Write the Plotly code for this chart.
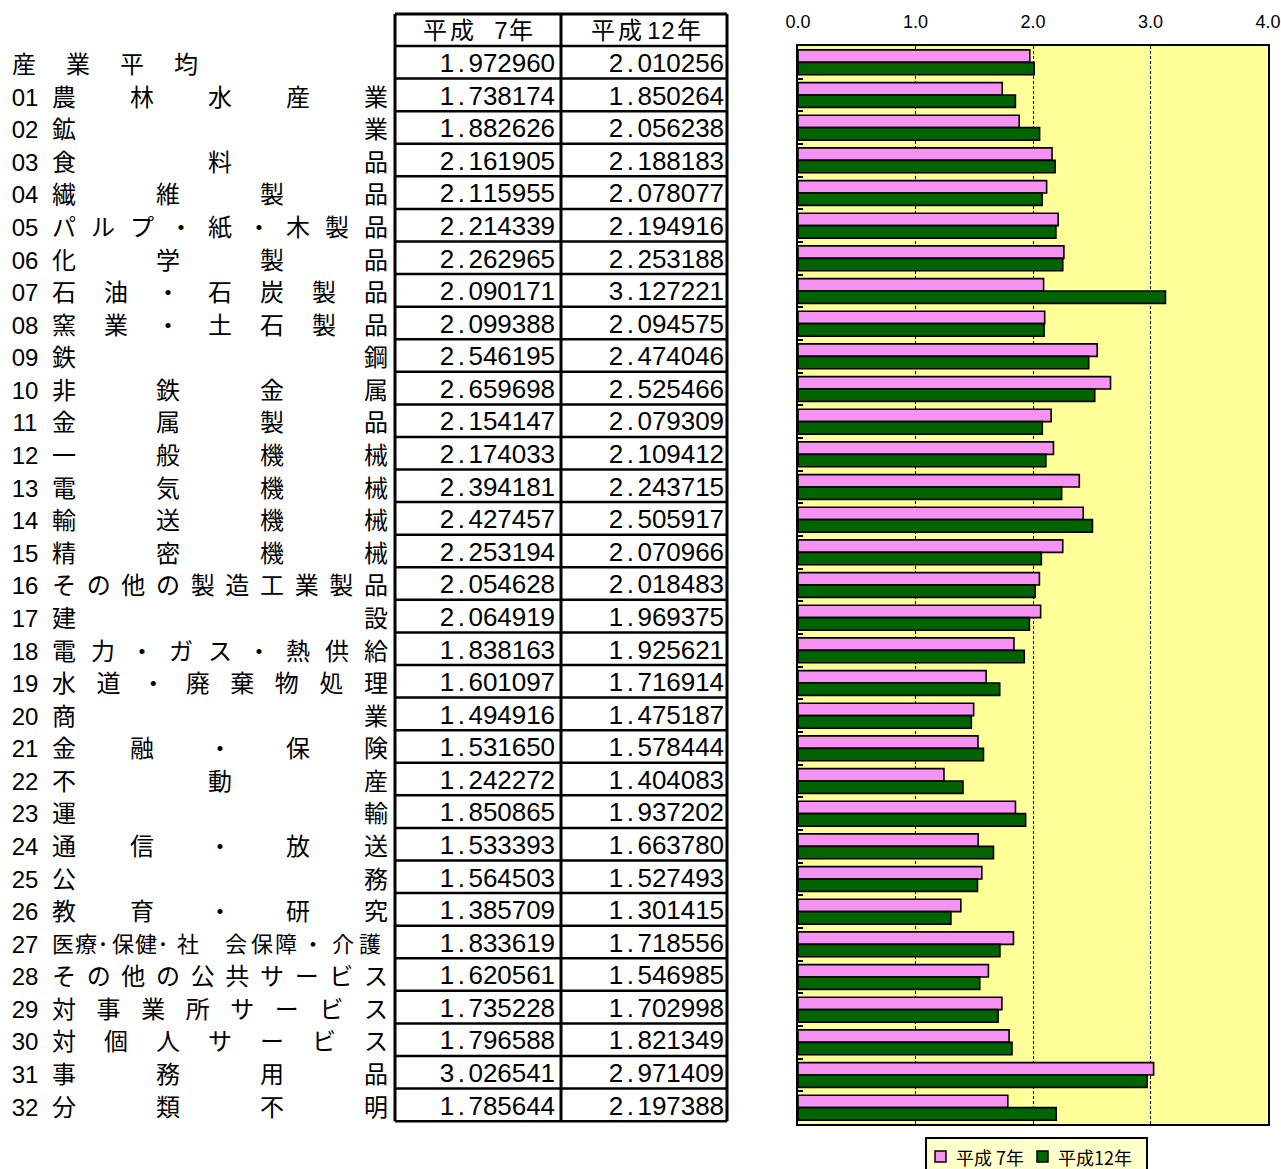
import plotly.graph_objects as go

W, H = 1281, 1169

# ---- data -------------------------------------------------------------
codes = ["", "01", "02", "03", "04", "05", "06", "07", "08", "09", "10",
         "11", "12", "13", "14", "15", "16", "17", "18", "19", "20",
         "21", "22", "23", "24", "25", "26", "27", "28", "29", "30",
         "31", "32"]
names = ["産業平均", "農林水産業", "鉱業", "食料品", "繊維製品",
         "パルプ・紙・木製品", "化学製品", "石油・石炭製品", "窯業・土石製品",
         "鉄鋼", "非鉄金属", "金属製品", "一般機械", "電気機械", "輸送機械",
         "精密機械", "その他の製造工業製品", "建設", "電力・ガス・熱供給",
         "水道・廃棄物処理", "商業", "金融・保険", "不動産", "運輸",
         "通信・放送", "公務", "教育・研究", "医療･保健･社会保障・介護",
         "その他の公共サービス", "対事業所サービス", "対個人サービス",
         "事務用品", "分類不明"]
h07 = [1.972960, 1.738174, 1.882626, 2.161905, 2.115955, 2.214339,
       2.262965, 2.090171, 2.099388, 2.546195, 2.659698, 2.154147,
       2.174033, 2.394181, 2.427457, 2.253194, 2.054628, 2.064919,
       1.838163, 1.601097, 1.494916, 1.531650, 1.242272, 1.850865,
       1.533393, 1.564503, 1.385709, 1.833619, 1.620561, 1.735228,
       1.796588, 3.026541, 1.785644]
h12 = [2.010256, 1.850264, 2.056238, 2.188183, 2.078077, 2.194916,
       2.253188, 3.127221, 2.094575, 2.474046, 2.525466, 2.079309,
       2.109412, 2.243715, 2.505917, 2.070966, 2.018483, 1.969375,
       1.925621, 1.716914, 1.475187, 1.578444, 1.404083, 1.937202,
       1.663780, 1.527493, 1.301415, 1.718556, 1.546985, 1.702998,
       1.821349, 2.971409, 2.197388]
series_names = ["平成 7年", "平成12年"]
x_ticks = [0, 1, 2, 3, 4]

categories = [(c + " " + n).strip() for c, n in zip(codes, names)]

# ---- layout constants (pixels) ---------------------------------------
PLOT_L, PLOT_R, PLOT_T, PLOT_B = 798, 1268, 46, 1124
TBL_L, TBL_M, TBL_R = 395, 561, 727
TBL_T, HDR_B, ROW_H = 14, 46, 32.58
PINK, GREEN, YELLOW = "#F592F2", "#006400", "#FFFF99"

CJK = "Noto Sans CJK JP"
LAT = "Liberation Sans, Arial, sans-serif"

# glyph centres for the one label that is set tighter than the rest
LONG_LABEL_X = [63, 86, 103, 123, 146, 163, 188, 236, 262, 286, 313, 343, 370]


def row_text_y(i, lift):
    """Text sits just above the rule closing row i."""
    return HDR_B + ROW_H * (i + 1) - lift


fig = go.Figure()

# ---- bar chart -------------------------------------------------------
for name, vals, col in [(series_names[0], h07, PINK), (series_names[1], h12, GREEN)]:
    fig.add_trace(go.Bar(
        y=categories, x=vals, name=name, orientation="h",
        marker=dict(color=col, line=dict(color="black", width=1.6)),
        xaxis="x", yaxis="y", hoverinfo="skip", showlegend=False))

# ---- row labels: characters spread across the label column -----------
annotations = []
lab_x, lab_y, lab_t = [], [], []
long_x, long_y, long_t = [], [], []
code_x, code_y, code_t = [], [], []
for i, (c, n) in enumerate(zip(codes, names)):
    y = row_text_y(i, 11.5)
    if c:
        code_x.append(25); code_y.append(y); code_t.append(c)
    if len(n) == len(LONG_LABEL_X):
        for ch, x in zip(n, LONG_LABEL_X):
            long_x.append(x); long_y.append(y); long_t.append(ch)
        continue
    if i == 0:
        xs = [24 + 54 * k for k in range(len(n))]
    elif len(n) == 1:
        xs = [64]
    else:
        xs = [64 + k * 312 / (len(n) - 1) for k in range(len(n))]
    for ch, x in zip(n, xs):
        lab_x.append(x); lab_y.append(y); lab_t.append(ch)

def text_trace(xs, ys, ts, family, size):
    return go.Scatter(x=xs, y=ys, text=ts, mode="text", textposition="middle center",
                      textfont=dict(family=family, size=size, color="black"),
                      xaxis="x2", yaxis="y2", showlegend=False, hoverinfo="skip")

fig.add_trace(text_trace(lab_x, lab_y, lab_t, CJK, 24))
fig.add_trace(text_trace(long_x, long_y, long_t, CJK, 22))
fig.add_trace(text_trace(code_x, code_y, code_t, LAT, 24))

# ---- table values, one glyph per fixed-width cell --------------------
num_x, num_y, num_t = [], [], []
for i in range(len(categories)):
    y = row_text_y(i, 13)
    for vals, right in [(h07, 555), (h12, 724)]:
        s = f"{vals[i]:.6f}"
        for k, ch in enumerate(s):
            num_x.append(right - 7.2 - (len(s) - 1 - k) * 14.4)
            num_y.append(y)
            num_t.append(ch)
fig.add_trace(text_trace(num_x, num_y, num_t, LAT, 26))

# table header, glyph by glyph
HDR_Y = 33
hdr_pos = [[435, 462, None, 501, 521], [603, 630, 654, 668, 689]]
hx, hy, ht = [], [], []
dx, dy, dt = [], [], []
for label, xs in zip(series_names, hdr_pos):
    for ch, x in zip(label, xs):
        if x is None or ch == " ":
            continue
        if ch.isdigit():
            dx.append(x); dy.append(HDR_Y); dt.append(ch)
        else:
            hx.append(x); hy.append(HDR_Y); ht.append(ch)
fig.add_trace(text_trace(hx, hy, ht, CJK, 24))
fig.add_trace(text_trace(dx, dy, dt, LAT, 24))

# ---- table grid ------------------------------------------------------
shapes = []
n_rows = len(categories)
tbl_b = HDR_B + ROW_H * n_rows
for k in range(n_rows + 1):
    yk = HDR_B + ROW_H * k
    shapes.append(dict(type="line", xref="x2", yref="y2", x0=TBL_L, x1=TBL_R,
                       y0=yk, y1=yk, line=dict(color="black", width=2.5)))
shapes.append(dict(type="line", xref="x2", yref="y2", x0=TBL_L, x1=TBL_R,
                   y0=TBL_T, y1=TBL_T, line=dict(color="black", width=3)))
for xk in (TBL_L, TBL_M, TBL_R):
    shapes.append(dict(type="line", xref="x2", yref="y2", x0=xk, x1=xk,
                       y0=TBL_T, y1=tbl_b, line=dict(color="black", width=3)))

# yellow plotting area
shapes.append(dict(type="rect", xref="x domain", yref="y domain", x0=0, x1=1, y0=0, y1=1,
                   fillcolor=YELLOW, line=dict(width=0), layer="below"))

# ---- legend box ------------------------------------------------------
LG_L, LG_T, LG_R, LG_B = 926, 1138, 1147, 1180
shapes.append(dict(type="rect", xref="x2", yref="y2", x0=LG_L, x1=LG_R, y0=LG_T, y1=LG_B,
                   fillcolor="#FFFFCC", line=dict(color="black", width=2)))
for (sx, tx), label, col in zip([(935, 954), (1037, 1056)], series_names, [PINK, GREEN]):
    shapes.append(dict(type="rect", xref="x2", yref="y2", x0=sx, x1=sx + 11,
                       y0=1151, y1=1162, fillcolor=col,
                       line=dict(color="black", width=1.5)))
    annotations.append(dict(xref="x2", yref="y2", x=tx, y=1157, text=label,
                            xanchor="left", yanchor="middle", showarrow=False,
                            font=dict(family=CJK, size=18, color="black")))

fig.update_layout(
    width=W, height=H, margin=dict(l=0, r=0, t=0, b=0, autoexpand=False),
    paper_bgcolor="white", plot_bgcolor="rgba(0,0,0,0)",
    barmode="group", bargap=0.24, bargroupgap=0.0,
    shapes=shapes, annotations=annotations, showlegend=False,
    xaxis=dict(domain=[PLOT_L / W, PLOT_R / W], range=[0, 4], side="top",
               tickvals=x_ticks, ticktext=[f"{v:.1f}" for v in x_ticks],
               tickfont=dict(family=LAT, size=18, color="black"),
               ticks="", ticklabelstandoff=9, automargin=False,
               showgrid=True, gridcolor="black", griddash="3px,2px", gridwidth=1.2,
               zeroline=False, showline=True, linecolor="black", linewidth=2,
               mirror=True, anchor="y", fixedrange=True),
    yaxis=dict(domain=[1 - PLOT_B / H, 1 - PLOT_T / H], type="category",
               categoryorder="array", categoryarray=categories, autorange="reversed",
               showticklabels=False, tickson="boundaries", ticks="inside",
               ticklen=5, tickwidth=2, tickcolor="black", showgrid=False,
               showline=True, linecolor="black", linewidth=2, mirror=True,
               anchor="x", fixedrange=True, automargin=False),
    xaxis2=dict(domain=[0, 1], range=[0, W], visible=False, anchor="y2", fixedrange=True),
    yaxis2=dict(domain=[0, 1], range=[H, 0], visible=False, anchor="x2", fixedrange=True),
)

fig.write_html("out.html")
